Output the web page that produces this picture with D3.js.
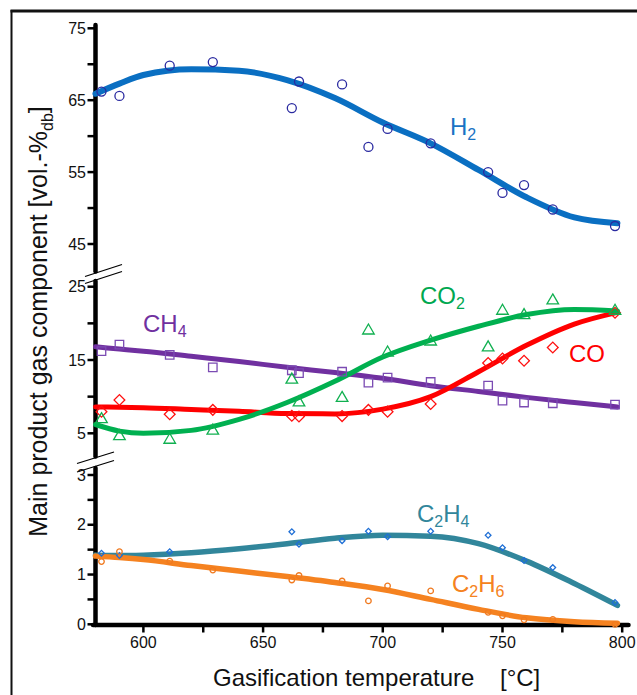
<!DOCTYPE html>
<html>
<head>
<meta charset="utf-8">
<script src="https://cdn.jsdelivr.net/npm/d3@7"></script>
<style>
  body { margin: 0; background: #fff; }
  svg { display: block; font-family: "Liberation Sans", Arial, sans-serif; }
</style>
</head>
<body>
<svg id="chart"></svg>
<script>
//  measured points (temperature in °C)
const temps = [582.5, 590, 611, 629, 662, 665, 683, 694, 702, 720, 744, 750, 759, 771, 797];
const h2   = [66.2, 65.6, 69.8, 70.3, 63.9, 67.6, 67.2, 58.5, 61.0, 59.0, 55.0, 52.1, 53.2, 49.8, 47.5];
const ch4  = [16.2, 17.1, 15.7, 14.0, 13.6, 13.2, 13.4, 11.9, 12.6, 12.0, 11.5, 9.45, 9.2, 9.1, 8.9];
const co   = [7.95, 9.55, 7.6, 8.2, 7.4, 7.3, 7.35, 8.2, 7.95, 9.0, 14.6, 15.2, 14.9, 16.7, 21.45];
const co2  = [6.9, 4.6, 4.1, 5.35, 12.3, 9.2, 9.8, 19.0, 16.0, 17.5, 16.7, 21.7, 21.1, 23.1, 21.7];
const c2h4 = [1.43, 1.38, 1.46, null, 1.86, 1.61, 1.68, 1.87, 1.76, 1.87, 1.79, 1.54, 1.28, 1.14, 0.44];
const c2h6 = [1.26, 1.46, 1.27, 1.09, 0.89, 0.98, 0.87, 0.47, 0.77, 0.67, 0.24, 0.17, 0.09, 0.10, 0.0];

//  fitted trend curves, read at these temperatures
const fitTemps = [580, 590, 600, 620, 640, 660, 680, 700, 720, 740, 760, 780, 798];
const fitH2    = [65.9, 67.3, 68.5, 69.3, 69.1, 67.8, 65.3, 61.9, 59.0, 55.3, 51.5, 48.7, 47.9];
const fitCh4   = [16.8, 16.5, 16.2, 15.5, 14.8, 14.0, 13.3, 12.5, 11.5, 10.7, 9.9, 9.2, 8.6];
const fitCo    = [8.6, 8.55, 8.5, 8.25, 8.0, 7.7, 7.65, 8.3, 10.0, 13.4, 17.0, 19.9, 21.5];
const fitCo2   = [6.2, 5.3, 5.0, 5.4, 6.9, 9.2, 12.1, 15.4, 17.7, 19.6, 21.2, 21.9, 21.7];
const fitC2h4  = [1.39, 1.38, 1.39, 1.44, 1.52, 1.62, 1.73, 1.79, 1.77, 1.62, 1.27, 0.82, 0.38];
const fitC2h6  = [1.37, 1.34, 1.30, 1.18, 1.07, 0.96, 0.84, 0.70, 0.50, 0.30, 0.13, 0.05, 0.02];

//  axis ticks
const xTicks = [600, 625, 650, 675, 700, 725, 750, 775, 800];
const xTickLabels = [600, 650, 700, 750, 800];
const topTicks = [75, 70, 65, 60, 55, 50, 45];
const topTickLabels = [75, 65, 55, 45];
const midTicks = [25, 20, 15, 10, 5];
const midTickLabels = [25, 15, 5];
const lowTicks = [3, 2.5, 2, 1.5, 1, 0.5, 0];
const lowTickLabels = [3, 2, 1, 0];

const w = 637
const h = 695

const svg = d3.select("#chart").attr("width", w).attr("height", h)

//  scales, one per panel
const x = d3.scaleLinear().domain([580, 800]).range([95.5, 622.2])
const yTop = d3.scaleLinear().domain([45, 75]).range([244, 28.3])
const yMid = d3.scaleLinear().domain([5, 25]).range([433.3, 286.7])
const yLow = d3.scaleLinear().domain([0, 3]).range([624.3, 475])

//  frame
svg.append("line").attr("x1", 11.5).attr("x2", 11.5).attr("y1", 10).attr("y2", h)
   .attr("stroke", "#111").attr("stroke-width", 2)
svg.append("line").attr("x1", 10.5).attr("x2", w).attr("y1", 11).attr("y2", 11)
   .attr("stroke", "#111").attr("stroke-width", 3)

//  y axis segments
const axisX = x(580)
const segments = [[25, 271.5], [281, 456.5], [468, 625]]
segments.forEach(s => {
  svg.append("line")
     .attr("x1", axisX).attr("x2", axisX).attr("y1", s[0]).attr("y2", s[1])
     .attr("stroke", "#000").attr("stroke-width", 4.5).attr("stroke-linecap", "round")
})

//  break marks
const breaks = [
  [[85, 276.5], [122, 264.5]], [[85, 283.5], [122, 271.5]],
  [[77, 463.5], [114, 452]], [[77, 472], [114, 460.5]]
]
breaks.forEach(b => {
  svg.append("line")
     .attr("x1", b[0][0]).attr("y1", b[0][1]).attr("x2", b[1][0]).attr("y2", b[1][1])
     .attr("stroke", "#000").attr("stroke-width", 1.3)
})

//  y ticks and labels for one panel
function draw_y_ticks(scale, ticks, labels) {
  svg.append("g").selectAll("line")
     .data(ticks).enter().append("line")
     .attr("x1", axisX - 8).attr("x2", axisX)
     .attr("y1", d => scale(d)).attr("y2", d => scale(d))
     .attr("stroke", "#000").attr("stroke-width", 2.5)

  svg.append("g").selectAll("text")
     .data(labels).enter().append("text")
     .attr("x", 86)
     .attr("y", d => scale(d) + 5.5)
     .attr("text-anchor", "end")
     .style("font-size", "16px")
     .style("fill", "#111")
     .text(d => d)
}
draw_y_ticks(yTop, topTicks, topTickLabels)
draw_y_ticks(yMid, midTicks, midTickLabels)
draw_y_ticks(yLow, lowTicks, lowTickLabels)

//  x axis
svg.append("line")
   .attr("x1", 93).attr("x2", 628.5).attr("y1", 625).attr("y2", 625)
   .attr("stroke", "#000").attr("stroke-width", 4.5).attr("stroke-linecap", "round")
svg.append("g").selectAll("line")
   .data(xTicks).enter().append("line")
   .attr("x1", d => x(d)).attr("x2", d => x(d))
   .attr("y1", 625).attr("y2", 632.5)
   .attr("stroke", "#000").attr("stroke-width", 2.5)
svg.append("g").selectAll("text")
   .data(xTickLabels).enter().append("text")
   .attr("x", d => x(d))
   .attr("y", 648)
   .attr("text-anchor", "middle")
   .style("font-size", "16px")
   .style("fill", "#111")
   .text(d => d)

//  axis titles
svg.append("text")
   .attr("x", 213).attr("y", 686)
   .style("font-size", "24px").style("fill", "#111")
   .text("Gasification temperature")
svg.append("text")
   .attr("x", 500).attr("y", 686)
   .style("font-size", "24px").style("fill", "#111")
   .text("[°C]")

const yTitle = svg.append("text")
   .attr("transform", "translate(47,321.5) rotate(-90)")
   .attr("text-anchor", "middle")
   .style("font-size", "25px").style("fill", "#111")
yTitle.append("tspan").text("Main product gas component [vol.-%")
yTitle.append("tspan").attr("dy", 6).style("font-size", "16px").text("db")
yTitle.append("tspan").attr("dy", -6).text("]")

//  fitted curve
function draw_fit(scale, values, color, width) {
  const line = d3.line()
    .x(d => x(d[0]))
    .y(d => scale(d[1]))
    .curve(d3.curveMonotoneX)
  svg.append("path")
     .datum(fitTemps.map((t, i) => [t, values[i]]))
     .attr("d", line)
     .attr("fill", "none")
     .attr("stroke", color)
     .attr("stroke-width", width)
     .attr("stroke-linecap", "round")
}

//  measured markers
function draw_points(scale, values, type, size, color, rotate) {
  const pts = temps.map((t, i) => [t, values[i]]).filter(d => d[1] !== null)
  svg.append("g").selectAll("path")
     .data(pts).enter().append("path")
     .attr("d", d3.symbol().type(type).size(size))
     .attr("transform", d => "translate(" + x(d[0]) + "," + scale(d[1]) + ")" + (rotate ? " rotate(45)" : ""))
     .attr("fill", "none")
     .attr("stroke", color)
     .attr("stroke-width", 1.3)
}

draw_fit(yTop, fitH2, "#0a6fc2", 6)
draw_fit(yMid, fitCh4, "#7030a0", 5)
draw_fit(yMid, fitCo, "#ff0000", 5)
draw_fit(yMid, fitCo2, "#00b050", 5)
draw_fit(yLow, fitC2h4, "#31869b", 5.5)
draw_fit(yLow, fitC2h6, "#f58220", 5.5)

draw_points(yTop, h2, d3.symbolCircle, 64, "#2a2aa0", false)
draw_points(yMid, ch4, d3.symbolSquare, 72, "#7b4bb3", false)
draw_points(yMid, co, d3.symbolSquare, 58, "#ff1010", true)
draw_points(yMid, co2, d3.symbolTriangle, 58, "#10b050", false)
draw_points(yLow, c2h4, d3.symbolSquare, 16, "#1f6fd6", true)
draw_points(yLow, c2h6, d3.symbolCircle, 24, "#f07a20", false)

//  series labels with subscripts
function draw_label(px, py, main, sub, color) {
  const t = svg.append("text")
     .attr("x", px).attr("y", py)
     .style("font-size", "24px")
     .style("fill", color)
  t.append("tspan").text(main)
  if (sub) t.append("tspan").attr("dy", 5).style("font-size", "16px").text(sub)
}

draw_label(450, 135, "H", "2", "#1a73c4")
draw_label(143, 331.5, "CH", "4", "#7030a0")
draw_label(420, 303.5, "CO", "2", "#00a850")
draw_label(569, 361.5, "CO", null, "#ff0000")

//  C2H4 and C2H6 have two subscripts
function draw_hydrocarbon(px, py, sub2, color) {
  const t = svg.append("text")
     .attr("x", px).attr("y", py)
     .style("font-size", "24px")
     .style("fill", color)
  t.append("tspan").text("C")
  t.append("tspan").attr("dy", 5).style("font-size", "16px").text("2")
  t.append("tspan").attr("dy", -5).text("H")
  t.append("tspan").attr("dy", 5).style("font-size", "16px").text(sub2)
}
draw_hydrocarbon(417, 521.5, "4", "#31869b")
draw_hydrocarbon(452, 591.5, "6", "#f58220")
</script>
</body>
</html>
